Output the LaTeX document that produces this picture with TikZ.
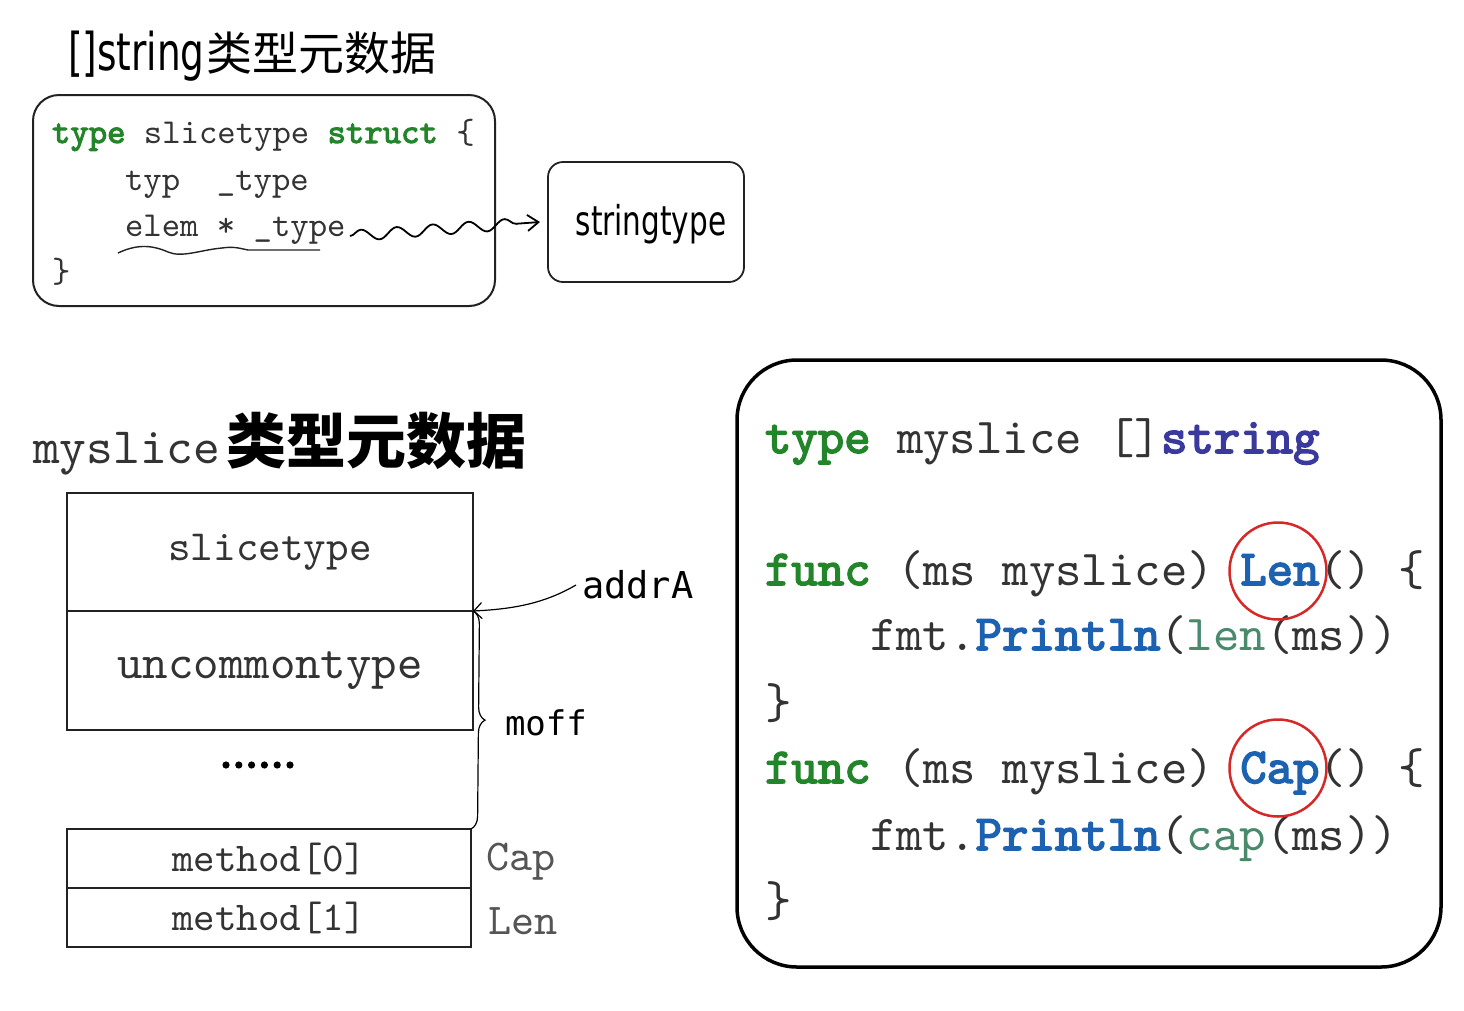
\documentclass[tikz,border=0pt]{standalone}
\usepackage{fontspec}
\setmainfont{Liberation Serif}
\newfontfamily\codefont{lmmono10-regular}[Extension=.otf, BoldFont=lmmono10-regular, BoldFeatures={FakeBold=3}]
\newfontfamily\cjkfont{Noto Sans CJK SC}
\newfontfamily\handfont[FakeStretch=0.72]{DejaVu Sans}
\newfontfamily\handmono{DejaVu Sans Mono}
\usetikzlibrary{decorations.pathmorphing,decorations.pathreplacing,arrows.meta}
\definecolor{kwgreen}{HTML}{23852A}
\definecolor{fnblue}{HTML}{1C62B0}
\definecolor{strpurple}{HTML}{3A3A9E}
\definecolor{codegray}{HTML}{333333}
\definecolor{bigreen}{HTML}{4A8A6C}
\definecolor{boxline}{HTML}{222222}
\newcommand\kwd[1]{{\color{kwgreen}\bfseries #1}}
\newcommand\fnm[1]{{\color{fnblue}\bfseries #1}}
\newcommand\tyn[1]{{\color{strpurple}\bfseries #1}}
\newcommand\bin[1]{{\color{bigreen}#1}}
\tikzset{
  every node/.style={inner sep=0pt, outer sep=0pt},
  txt/.style={anchor=base west, text=codegray},
  smallcode/.style={txt, font=\codefont\fontsize{35}{35}\selectfont},
  bigcode/.style={txt, font=\codefont\fontsize{50.3}{50.3}\selectfont},
  cellbox/.style={draw=boxline, rectangle, text=codegray},
  redring/.style={circle, draw={rgb,255:red,215;green,40;blue,40}, line width=2.5pt, minimum size=97pt},
  thinarrow/.style={-{Straight Barb[length=11pt,width=16pt]}, line width=1.8pt},
}
\begin{document}
\begin{tikzpicture}[x=1pt,y=-1pt]
\useasboundingbox (0,0) rectangle (1464,1010);
\fill[white] (0,0) rectangle (1464,1010);

% ---------- top-left: []string metadata ----------
\node[anchor=base west, text=black] (title1) at (68,70)
  {\handfont\fontsize{52}{52}\selectfont []string\hspace{2pt}\cjkfont\fontsize{46}{46}\selectfont 类型元数据};

\node[draw=boxline, line width=2pt, rounded corners=26pt, minimum width=462pt, minimum height=211pt] (structbox) at (264,200.5) {};
\node[smallcode] (s1) at (52,143) {\kwd{type}~slicetype~\kwd{struct}~\{};
\node[smallcode] (s2) at (125,190) {typ~~\_type};
\node[smallcode] (s3) at (125,236) {elem~*~\_type};
\node[smallcode] (s4) at (52,282) {\}};
\draw[line width=1.4pt, boxline] (118,253) .. controls (135,245) and (150,244) .. (168,252)
  .. controls (182,258) and (200,250) .. (222,248) .. controls (235,246) and (242,249) .. (248,250) -- (320,250);

\node[draw=boxline, line width=1.8pt, rounded corners=15pt, minimum width=196pt, minimum height=120pt] (stringtype) at (646,222) {};
\node[anchor=center] (stlabel) at (651,224)
  {\handfont\fontsize{41}{41}\selectfont stringtype};
\coordinate (wavestart) at (350,236);
\draw[thinarrow, decorate, decoration={snake, amplitude=5.5pt, segment length=36pt, post length=22pt}]
  (wavestart) -- ([xshift=-8pt]stringtype.west);

% ---------- bottom-left: myslice metadata ----------
\node[anchor=base west, text=codegray] (title2) at (33,463)
  {\codefont\fontsize{51}{51}\selectfont myslice\hspace{6pt}\cjkfont\bfseries\fontsize{60}{60}\selectfont\color{black}类型元数据};

\node[cellbox, line width=2.5pt, minimum width=406pt, minimum height=118pt,
  font=\codefont\fontsize{43}{43}\selectfont] (slicebox) at (270,552) {slicetype};
\node[cellbox, line width=2.5pt, minimum width=406pt, minimum height=119pt,
  font=\codefont\fontsize{48.5}{48.5}\selectfont] (uncommon) at (270,670.5) {uncommontype};
\node[cellbox, line width=1.6pt, minimum width=404pt, minimum height=59pt,
  font=\codefont\fontsize{41}{41}\selectfont] (method0) at (269,858.5) {method[0]};
\node[cellbox, line width=1.6pt, minimum width=404pt, minimum height=59pt,
  font=\codefont\fontsize{41}{41}\selectfont] (method1) at (269,917.5) {method[1]};

\foreach \i in {0,...,5} { \fill[black] (226+\i*12.8,765) circle (3.6pt); }

\node[anchor=west, text={rgb,255:red,85;green,85;blue,85}, font=\codefont\fontsize{44}{44}\selectfont] (capl) at (486,862) {Cap};
\node[anchor=west, text={rgb,255:red,85;green,85;blue,85}, font=\codefont\fontsize{44}{44}\selectfont] (lenl) at (488,921) {Len};

\node[anchor=base west, font=\handmono\fontsize{37}{37}\selectfont] (addrA) at (582,598) {addrA};
\coordinate (addrAstart) at (576,585);
\draw[line width=1.2pt, -{Straight Barb[length=8pt,width=16pt]}]
  (addrAstart) .. controls (545,603) and (515,609) .. (slicebox.south east);

\draw[line width=1.2pt, decorate, decoration={brace, amplitude=13pt, aspect=0.5}]
  (uncommon.north east) -- (method0.north east);
\node[anchor=base west, font=\handmono\fontsize{34}{34}\selectfont] (moff) at (505,735) {moff};

% ---------- right: code box ----------
\node[draw=black, line width=3.5pt, rounded corners=60pt, minimum width=704pt, minimum height=607pt] (codebox) at (1089,663.5) {};
\node[bigcode] (c1) at (765,453) {\kwd{type}~myslice~[]\tyn{string}};
\node[bigcode] (c2) at (765,585) {\kwd{func}~(ms~myslice)~\fnm{Len}()~\{};
\node[bigcode] (c3) at (870,650) {fmt.\fnm{Println}(\bin{len}(ms))};
\node[bigcode] (c4) at (765,718) {\}};
\node[bigcode] (c5) at (765,783) {\kwd{func}~(ms~myslice)~\fnm{Cap}()~\{};
\node[bigcode] (c6) at (870,850) {fmt.\fnm{Println}(\bin{cap}(ms))};
\node[bigcode] (c7) at (765,916) {\}};
\node[redring] (ringlen) at (1278,571) {};
\node[redring] (ringcap) at (1278,768) {};
\end{tikzpicture}
\end{document}
